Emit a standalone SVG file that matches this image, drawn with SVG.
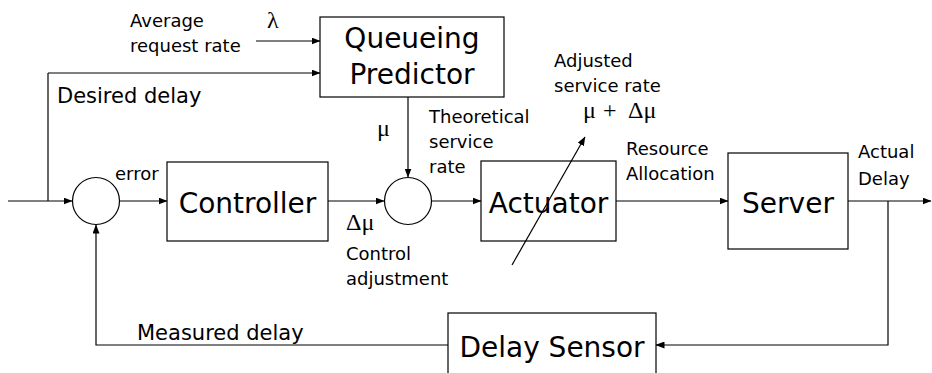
<svg xmlns="http://www.w3.org/2000/svg" width="932" height="373" viewBox="0 0 932 373">
<defs>
<marker id="ah" markerWidth="9" markerHeight="7" refX="8.5" refY="3.5" orient="auto" markerUnits="userSpaceOnUse">
<path d="M0,0 L9,3.5 L0,7 Z" fill="#000"/>
</marker>
<style>
.box{fill:#fff;stroke:#000;stroke-width:1.2}
.sum{fill:#fff;stroke:#000;stroke-width:1.2}
.big{font-family:"DejaVu Sans",Verdana,sans-serif;font-size:28px;fill:#000}
.lbl{font-family:"DejaVu Sans",Verdana,sans-serif;font-size:18px;fill:#000}
.lg{font-size:21px}
.sym{font-family:"Liberation Serif","Times New Roman",serif;font-size:24px;fill:#000}
.ln{fill:none;stroke:#000;stroke-width:1.2}
.arr{fill:none;stroke:#000;stroke-width:1.2;marker-end:url(#ah)}
</style>
</defs>
<rect width="932" height="373" fill="#fff"/>

<g id="predictor">
<rect class="box" x="320" y="17" width="184" height="80"/>
<text class="big" x="412" y="48" text-anchor="middle">Queueing</text>
<text class="big" x="412" y="84" text-anchor="middle">Predictor</text>
</g>

<g id="sum1">
<circle class="sum" cx="96" cy="201" r="23.5"/>
</g>

<g id="controller">
<rect class="box" x="167" y="162" width="161" height="79"/>
<text class="big" x="247.5" y="213" text-anchor="middle">Controller</text>
</g>

<g id="sum2">
<circle class="sum" cx="408" cy="201" r="23.5"/>
</g>

<g id="actuator">
<rect class="box" x="481" y="161" width="135" height="80"/>
<text class="big" x="548.5" y="213" text-anchor="middle">Actuator</text>
</g>

<g id="server">
<rect class="box" x="728" y="153" width="120" height="96"/>
<text class="big" x="788" y="213" text-anchor="middle">Server</text>
</g>

<g id="sensor">
<rect class="box" x="448" y="313" width="208" height="70"/>
<text class="big" x="552" y="357" text-anchor="middle">Delay Sensor</text>
</g>

<g id="connectors">
<path class="arr" d="M8,201 H72"/>
<path class="ln" d="M48,201 V73"/>
<path class="arr" d="M48,73 H320"/>
<path class="arr" d="M256,41 H320"/>
<path class="arr" d="M120,201 H167"/>
<path class="arr" d="M328,201 H384"/>
<path class="arr" d="M408,97 V177"/>
<path class="arr" d="M432,201 H481"/>
<path class="arr" d="M616,201 H728"/>
<path class="arr" d="M848,201 H931"/>
<path class="arr" d="M888,201 V345 H656"/>
<path class="arr" d="M448,345 H96 V225"/>
<path class="arr" d="M512,265 L585,137"/>
</g>

<g id="labels">
<text class="lbl" x="130" y="27" font-size="18.5">Average</text>
<text class="lbl" x="130" y="52" font-size="18.5">request rate</text>
<text class="sym" x="267" y="28" font-size="26">λ</text>
<text class="lbl lg" x="57" y="103">Desired delay</text>
<text class="lbl" x="115" y="180" font-size="19">error</text>
<text class="sym" x="377" y="136" font-size="22">μ</text>
<text class="lbl" x="429" y="123">Theoretical</text>
<text class="lbl" x="429" y="148">service</text>
<text class="lbl" x="429" y="173">rate</text>
<text class="sym" x="346" y="230" font-size="22">Δμ</text>
<text class="lbl" x="346" y="260">Control</text>
<text class="lbl" x="346" y="285">adjustment</text>
<text class="lbl" x="554" y="67">Adjusted</text>
<text class="lbl" x="554" y="92">service rate</text>
<text class="sym" y="118" font-size="23"><tspan x="583">μ</tspan><tspan x="603">+</tspan><tspan x="628">Δμ</tspan></text>
<text class="lbl" x="626" y="155">Resource</text>
<text class="lbl" x="626" y="180">Allocation</text>
<text class="lbl" x="858" y="158" font-size="20">Actual</text>
<text class="lbl" x="858" y="185" font-size="20">Delay</text>
<text class="lbl lg" x="137" y="340">Measured delay</text>
</g>
</svg>
